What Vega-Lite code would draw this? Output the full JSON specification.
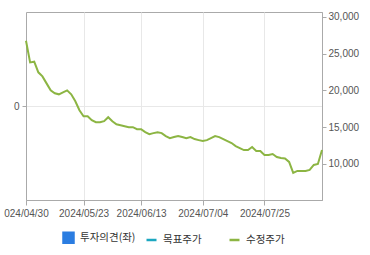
{
  "$schema": "https://vega.github.io/schema/vega-lite/v6.json",
  "width": 296,
  "height": 188,
  "autosize": "none",
  "padding": {"left": 26, "top": 12, "right": 48, "bottom": 55},
  "background": "white",
  "config": {
    "view": {"stroke": "#aaaaaa", "strokeWidth": 1},
    "axis": {
      "labelFont": "Liberation Sans",
      "labelFontSize": 10,
      "labelColor": "#555555",
      "domainColor": "#aaaaaa",
      "tickColor": "#aaaaaa",
      "gridColor": "#e8e8e8",
      "title": null
    }
  },
  "data": {
    "values": [
      {"date": "2024/04/30", "price": 26750, "series": "수정주가"},
      {"date": "2024/05/02", "price": 23800, "series": "수정주가"},
      {"date": "2024/05/03", "price": 23900, "series": "수정주가"},
      {"date": "2024/05/07", "price": 22450, "series": "수정주가"},
      {"date": "2024/05/08", "price": 21900, "series": "수정주가"},
      {"date": "2024/05/09", "price": 20950, "series": "수정주가"},
      {"date": "2024/05/10", "price": 20000, "series": "수정주가"},
      {"date": "2024/05/13", "price": 19600, "series": "수정주가"},
      {"date": "2024/05/14", "price": 19460, "series": "수정주가"},
      {"date": "2024/05/16", "price": 19730, "series": "수정주가"},
      {"date": "2024/05/17", "price": 20000, "series": "수정주가"},
      {"date": "2024/05/20", "price": 19460, "series": "수정주가"},
      {"date": "2024/05/21", "price": 18510, "series": "수정주가"},
      {"date": "2024/05/22", "price": 17300, "series": "수정주가"},
      {"date": "2024/05/23", "price": 16480, "series": "수정주가"},
      {"date": "2024/05/24", "price": 16480, "series": "수정주가"},
      {"date": "2024/05/27", "price": 15940, "series": "수정주가"},
      {"date": "2024/05/28", "price": 15670, "series": "수정주가"},
      {"date": "2024/05/29", "price": 15670, "series": "수정주가"},
      {"date": "2024/05/30", "price": 15810, "series": "수정주가"},
      {"date": "2024/05/31", "price": 16350, "series": "수정주가"},
      {"date": "2024/06/03", "price": 15810, "series": "수정주가"},
      {"date": "2024/06/04", "price": 15400, "series": "수정주가"},
      {"date": "2024/06/05", "price": 15270, "series": "수정주가"},
      {"date": "2024/06/07", "price": 15130, "series": "수정주가"},
      {"date": "2024/06/10", "price": 15000, "series": "수정주가"},
      {"date": "2024/06/11", "price": 15000, "series": "수정주가"},
      {"date": "2024/06/12", "price": 14730, "series": "수정주가"},
      {"date": "2024/06/13", "price": 14730, "series": "수정주가"},
      {"date": "2024/06/14", "price": 14320, "series": "수정주가"},
      {"date": "2024/06/17", "price": 14050, "series": "수정주가"},
      {"date": "2024/06/18", "price": 14190, "series": "수정주가"},
      {"date": "2024/06/19", "price": 14320, "series": "수정주가"},
      {"date": "2024/06/20", "price": 14190, "series": "수정주가"},
      {"date": "2024/06/21", "price": 13780, "series": "수정주가"},
      {"date": "2024/06/24", "price": 13510, "series": "수정주가"},
      {"date": "2024/06/25", "price": 13650, "series": "수정주가"},
      {"date": "2024/06/26", "price": 13780, "series": "수정주가"},
      {"date": "2024/06/27", "price": 13650, "series": "수정주가"},
      {"date": "2024/06/28", "price": 13510, "series": "수정주가"},
      {"date": "2024/07/01", "price": 13650, "series": "수정주가"},
      {"date": "2024/07/02", "price": 13380, "series": "수정주가"},
      {"date": "2024/07/03", "price": 13240, "series": "수정주가"},
      {"date": "2024/07/04", "price": 13110, "series": "수정주가"},
      {"date": "2024/07/05", "price": 13240, "series": "수정주가"},
      {"date": "2024/07/08", "price": 13510, "series": "수정주가"},
      {"date": "2024/07/09", "price": 13780, "series": "수정주가"},
      {"date": "2024/07/10", "price": 13650, "series": "수정주가"},
      {"date": "2024/07/11", "price": 13380, "series": "수정주가"},
      {"date": "2024/07/12", "price": 13110, "series": "수정주가"},
      {"date": "2024/07/15", "price": 12840, "series": "수정주가"},
      {"date": "2024/07/16", "price": 12430, "series": "수정주가"},
      {"date": "2024/07/17", "price": 12160, "series": "수정주가"},
      {"date": "2024/07/18", "price": 11890, "series": "수정주가"},
      {"date": "2024/07/19", "price": 11890, "series": "수정주가"},
      {"date": "2024/07/22", "price": 12300, "series": "수정주가"},
      {"date": "2024/07/23", "price": 11760, "series": "수정주가"},
      {"date": "2024/07/24", "price": 11760, "series": "수정주가"},
      {"date": "2024/07/25", "price": 11220, "series": "수정주가"},
      {"date": "2024/07/26", "price": 11220, "series": "수정주가"},
      {"date": "2024/07/29", "price": 11350, "series": "수정주가"},
      {"date": "2024/07/30", "price": 10950, "series": "수정주가"},
      {"date": "2024/07/31", "price": 10810, "series": "수정주가"},
      {"date": "2024/08/01", "price": 10750, "series": "수정주가"},
      {"date": "2024/08/02", "price": 10270, "series": "수정주가"},
      {"date": "2024/08/05", "price": 8780, "series": "수정주가"},
      {"date": "2024/08/06", "price": 9050, "series": "수정주가"},
      {"date": "2024/08/07", "price": 9050, "series": "수정주가"},
      {"date": "2024/08/08", "price": 9050, "series": "수정주가"},
      {"date": "2024/08/09", "price": 9190, "series": "수정주가"},
      {"date": "2024/08/12", "price": 9860, "series": "수정주가"},
      {"date": "2024/08/13", "price": 10000, "series": "수정주가"},
      {"date": "2024/08/14", "price": 11890, "series": "수정주가"}
    ]
  },
  "encoding": {
    "x": {
      "field": "date",
      "type": "ordinal",
      "scale": {"type": "point", "padding": 0},
      "axis": {
        "values": ["2024/04/30", "2024/05/23", "2024/06/13", "2024/07/04", "2024/07/25"],
        "labelExpr": "datum.value === '2024/04/30' ? '024/04/30' : datum.label",
        "labelAngle": 0,
        "grid": true,
        "tickSize": 5,
        "labelPadding": 3,
        "labelOverlap": false,
        "labelBound": false,
        "labelFlush": false
      }
    }
  },
  "layer": [
    {
      "mark": {"type": "point", "opacity": 0},
      "encoding": {
        "y": {
          "datum": 0,
          "type": "quantitative",
          "scale": {"domain": [-1, 1], "nice": false},
          "axis": {"orient": "left", "values": [0], "grid": true, "tickSize": 4, "labelPadding": 3}
        }
      }
    },
    {
      "mark": {"type": "line", "strokeWidth": 2},
      "encoding": {
        "y": {
          "field": "price",
          "type": "quantitative",
          "scale": {"domain": [5100, 30650], "nice": false, "zero": false},
          "axis": {"orient": "right", "values": [10000, 15000, 20000, 25000, 30000], "format": ",.0f", "grid": false, "tickSize": 4, "labelPadding": 2}
        },
        "color": {
          "field": "series",
          "type": "nominal",
          "scale": {"domain": ["투자의견(좌)", "목표주가", "수정주가"], "range": ["#2b7de1", "#1ca7c0", "#8cb543"]},
          "legend": {
            "title": null,
            "orient": "none",
            "legendX": 36,
            "legendY": 219,
            "direction": "horizontal",
            "columns": 3,
            "gridAlign": "all",
            "columnPadding": 5,
            "labelFont": "Noto Sans CJK KR",
            "labelFontSize": 10.5,
            "labelColor": "#333333",
            "labelOffset": 5,
            "symbolSize": 100,
            "symbolStrokeWidth": 2.5,
            "encode": {
              "symbols": {
                "update": {
                  "shape": {"signal": "datum.value === '투자의견(좌)' ? 'square' : 'stroke'"},
                  "fill": {"signal": "datum.value === '투자의견(좌)' ? '#2b7de1' : 'transparent'"},
                  "stroke": {"signal": "datum.value === '투자의견(좌)' ? 'transparent' : (datum.value === '목표주가' ? '#1ca7c0' : '#8cb543')"},
                  "strokeWidth": {"value": 2.5},
                  "opacity": {"value": 1}
                }
              }
            }
          }
        }
      }
    }
  ],
  "resolve": {"scale": {"y": "independent"}}
}
